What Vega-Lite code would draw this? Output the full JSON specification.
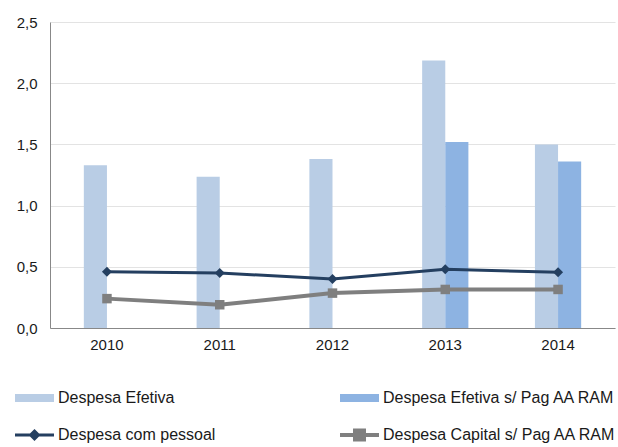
{
  "$schema": "https://vega.github.io/schema/vega-lite/v6.json",
  "width": 565,
  "height": 306,
  "autosize": "none",
  "padding": {"left": 50, "top": 22, "right": 3, "bottom": 119},
  "background": "white",
  "config": {
    "font": "Liberation Sans",
    "view": {"stroke": null},
    "axis": {"labelFont": "Liberation Sans", "labelFontSize": 15, "labelColor": "#1a1a1a"}
  },
  "data": {
    "values": [
      {"year": "2010", "series": "Despesa Efetiva", "value": 1.33},
      {"year": "2011", "series": "Despesa Efetiva", "value": 1.235},
      {"year": "2012", "series": "Despesa Efetiva", "value": 1.38},
      {"year": "2013", "series": "Despesa Efetiva", "value": 2.185},
      {"year": "2014", "series": "Despesa Efetiva", "value": 1.50},
      {"year": "2013", "series": "Despesa Efetiva s/ Pag AA RAM", "value": 1.52},
      {"year": "2014", "series": "Despesa Efetiva s/ Pag AA RAM", "value": 1.36},
      {"year": "2010", "series": "Despesa com pessoal", "value": 0.46},
      {"year": "2011", "series": "Despesa com pessoal", "value": 0.45},
      {"year": "2012", "series": "Despesa com pessoal", "value": 0.40},
      {"year": "2013", "series": "Despesa com pessoal", "value": 0.48},
      {"year": "2014", "series": "Despesa com pessoal", "value": 0.455},
      {"year": "2010", "series": "Despesa Capital s/ Pag AA RAM", "value": 0.24},
      {"year": "2011", "series": "Despesa Capital s/ Pag AA RAM", "value": 0.19},
      {"year": "2012", "series": "Despesa Capital s/ Pag AA RAM", "value": 0.285},
      {"year": "2013", "series": "Despesa Capital s/ Pag AA RAM", "value": 0.315},
      {"year": "2014", "series": "Despesa Capital s/ Pag AA RAM", "value": 0.315}
    ]
  },
  "encoding": {
    "x": {
      "field": "year", "type": "nominal",
      "scale": {"paddingInner": 0.59, "paddingOuter": 0.3},
      "axis": {"title": null, "labelAngle": 0, "ticks": false, "labelPadding": 9, "domainColor": "#888888", "grid": false}
    },
    "y": {
      "field": "value", "type": "quantitative",
      "scale": {"domain": [0, 2.5]},
      "axis": {
        "title": null, "values": [0, 0.5, 1, 1.5, 2, 2.5], "ticks": false, "labelPadding": 13,
        "labelExpr": "replace(format(datum.value, '.1f'), '.', ',')",
        "domain": true, "domainColor": "#888888", "gridColor": "#e3e3e3", "gridWidth": 1
      }
    },
    "color": {
      "field": "series", "type": "nominal",
      "scale": {
        "domain": ["Despesa Efetiva", "Despesa Efetiva s/ Pag AA RAM", "Despesa com pessoal", "Despesa Capital s/ Pag AA RAM"],
        "range": ["#b9cde5", "#8db3e2", "#243f60", "#7f7f7f"]
      },
      "legend": {
        "title": null,
        "orient": "none",
        "direction": "horizontal",
        "legendX": -35,
        "legendY": 368,
        "columns": 2,
        "columnPadding": 116,
        "rowPadding": 16,
        "labelFont": "Liberation Sans",
        "labelFontSize": 16,
        "labelColor": "#1a1a1a",
        "labelLimit": 400,
        "symbolSize": 1521,
        "labelOffset": 4,
        "encode": {
          "symbols": {
            "update": {
              "x": {"value": 19.5},
              "size": {"value": 1521},
              "shape": {"signal": "datum.value === 'Despesa Efetiva' || datum.value === 'Despesa Efetiva s/ Pag AA RAM' ? 'M-1,-0.205H1V0.205H-1Z' : datum.value === 'Despesa com pessoal' ? 'M-1,0H1M0,-0.2L0.2,0L0,0.2L-0.2,0Z' : 'M-1,0H1M-0.23,-0.23H0.23V0.23H-0.23Z'"},
              "fill": {"signal": "scale('color', datum.value)"},
              "stroke": {"signal": "scale('color', datum.value)"},
              "strokeWidth": {"signal": "datum.value === 'Despesa Efetiva' || datum.value === 'Despesa Efetiva s/ Pag AA RAM' ? 0 : datum.value === 'Despesa com pessoal' ? 3 : 4"},
              "opacity": {"value": 1},
              "fillOpacity": {"value": 1}
            }
          },
          "labels": {
            "update": {
              "x": {"value": 43}
            }
          }
        }
      }
    }
  },
  "layer": [
    {
      "transform": [{"filter": "datum.series === 'Despesa Efetiva' || datum.series === 'Despesa Efetiva s/ Pag AA RAM'"}],
      "mark": {"type": "bar", "opacity": 1},
      "encoding": {
        "xOffset": {"field": "series", "type": "nominal", "scale": {"domain": ["Despesa Efetiva", "Despesa Efetiva s/ Pag AA RAM"], "paddingInner": 0, "paddingOuter": 0}}
      }
    },
    {
      "transform": [{"filter": "datum.series === 'Despesa com pessoal'"}],
      "mark": {"type": "line", "strokeWidth": 3, "point": {"shape": "diamond", "size": 100, "filled": true, "opacity": 1}}
    },
    {
      "transform": [{"filter": "datum.series === 'Despesa Capital s/ Pag AA RAM'"}],
      "mark": {"type": "line", "strokeWidth": 4, "point": {"shape": "square", "size": 90, "filled": true, "opacity": 1}}
    }
  ]
}
